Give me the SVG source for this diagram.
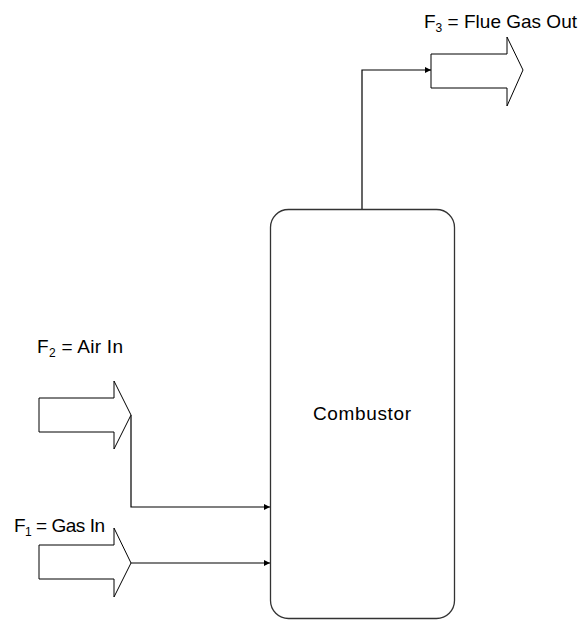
<svg xmlns="http://www.w3.org/2000/svg" width="581" height="620" viewBox="0 0 581 620">
<style>
.lbl{font-family:"Liberation Sans",Arial,sans-serif;font-size:19px;fill:#000}
.sub{font-size:12px}
.blk{fill:#fff;stroke:#000;stroke-width:1}
.con{fill:none;stroke:#000;stroke-width:1.2}
</style>
<defs>
<marker id="ah" viewBox="0 0 8 8" refX="8" refY="4" markerWidth="6" markerHeight="6" markerUnits="userSpaceOnUse" orient="auto">
<path d="M0,0 L8,4 L0,8 Z" fill="#000"/>
</marker>
</defs>
<rect width="581" height="620" fill="#fff"/>
<g id="connectors">
<path class="con" d="M362,209 V70 H431" marker-end="url(#ah)"/>
<path class="con" d="M131,415 V507 H270" marker-end="url(#ah)"/>
<path class="con" d="M131,563 H270" marker-end="url(#ah)"/>
</g>
<g id="combustor">
<rect x="270.5" y="209.5" width="184" height="409" rx="18" ry="18" fill="#fff" stroke="#333" stroke-width="1.3"/>
<text class="lbl" x="313" y="420" textLength="98" lengthAdjust="spacing">Combustor</text>
</g>
<g id="flue-gas-out">
<path class="blk" d="M431,54 H507 V37 L523,70 L507,106 V88 H431 Z"/>
<text class="lbl" x="424" y="28" textLength="153" lengthAdjust="spacing">F<tspan class="sub" dy="4">3</tspan><tspan dy="-4"> = Flue Gas Out</tspan></text>
</g>
<g id="air-in">
<path class="blk" d="M39,398 H114 V381 L131,415 L114,449 V432 H39 Z"/>
<text class="lbl" x="37" y="353" textLength="86" lengthAdjust="spacing">F<tspan class="sub" dy="4">2</tspan><tspan dy="-4"> = Air In</tspan></text>
</g>
<g id="gas-in">
<path class="blk" d="M39,545 H114 V528 L131,563 L114,597 V579 H39 Z"/>
<text class="lbl" x="14" y="532" textLength="91" lengthAdjust="spacing">F<tspan class="sub" dy="4">1</tspan><tspan dy="-4"> = Gas In</tspan></text>
</g>
</svg>
